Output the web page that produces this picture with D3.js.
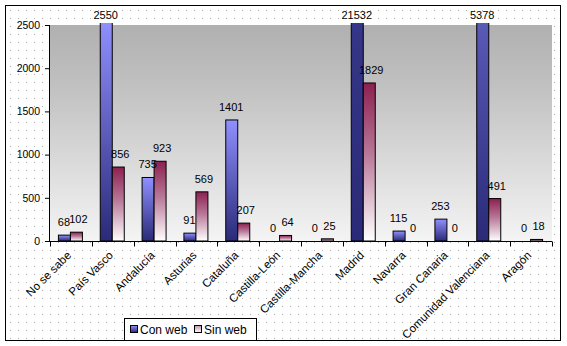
<!DOCTYPE html>
<html><head><meta charset="utf-8">
<script src="https://cdn.jsdelivr.net/npm/d3@7"></script>
<style>body{margin:0;background:#fff}svg{display:block}text{font-family:Arial,"Liberation Sans",sans-serif}</style>
</head><body><svg id="c" width="567" height="346"></svg>
<script>
const categories = ["No se sabe","País Vasco","Andalucía","Asturias","Cataluña","Castilla-León","Castilla-Mancha","Madrid","Navarra","Gran Canaria","Comunidad Valenciana","Aragón"];
const conWeb = [68, 2550, 735, 91, 1401, 0, 0, 21532, 115, 253, 5378, 0];
const sinWeb = [102, 856, 923, 569, 207, 64, 25, 1829, 0, 0, 491, 18];
const seriesNames = ["Con web","Sin web"];
const yTicks = [0, 500, 1000, 1500, 2000, 2500];

const svg = d3.select("#c");
const defs = svg.append("defs");
const pat = defs.append("pattern").attr("id","dots").attr("width",8).attr("height",8).attr("patternUnits","userSpaceOnUse");
pat.append("rect").attr("x",2).attr("y",2).attr("width",1).attr("height",1).attr("fill","#b0b0b0");
const pg = defs.append("linearGradient").attr("id","plotg").attr("x1",0).attr("y1",0).attr("x2",0).attr("y2",1);
pg.append("stop").attr("offset","0%").attr("stop-color","#b0b0b0");
pg.append("stop").attr("offset","30%").attr("stop-color","#c2c2c2");
pg.append("stop").attr("offset","100%").attr("stop-color","#f4f4f4");
const bg = defs.append("linearGradient").attr("id","blueg").attr("x1",0).attr("y1",0).attr("x2",0).attr("y2",1);
bg.append("stop").attr("offset","0%").attr("stop-color","#9090ff");
bg.append("stop").attr("offset","100%").attr("stop-color","#2a2a78");
const mg = defs.append("linearGradient").attr("id","maroong").attr("x1",0).attr("y1",0).attr("x2",0).attr("y2",1);
mg.append("stop").attr("offset","0%").attr("stop-color","#8c2050");
mg.append("stop").attr("offset","45%").attr("stop-color","#b87898");
mg.append("stop").attr("offset","100%").attr("stop-color","#ffffff");
const legMg = defs.append("linearGradient").attr("id","legm").attr("x1",0).attr("y1",0).attr("x2",0).attr("y2",1);
legMg.append("stop").attr("offset","0%").attr("stop-color","#c090b0");
legMg.append("stop").attr("offset","100%").attr("stop-color","#ffffff");

svg.append("rect").attr("x",5.5).attr("y",5.5).attr("width",555).attr("height",335).attr("fill","#fff");
svg.append("rect").attr("x",5.5).attr("y",5.5).attr("width",555).attr("height",335).attr("fill","url(#dots)").attr("stroke","#000").attr("stroke-width",1);

const pL = 50, pR = 552, pT = 25, pB = 241;
const x = d3.scaleBand().domain(categories).range([pL, pR]).padding(0);
const y = d3.scaleLinear().domain([0, 2500]).range([pB, pT]);

svg.append("rect").attr("x",pL).attr("y",pT).attr("width",pR-pL).attr("height",pB-pT).attr("fill","url(#plotg)");

defs.append("clipPath").attr("id","clip").append("rect").attr("x",pL).attr("y",pT-2).attr("width",pR-pL).attr("height",pB-pT+2);

const bw = 12;
const data = categories.map((c,i)=>({c, con: conWeb[i], sin: sinWeb[i]}));
const g = svg.append("g").attr("clip-path","url(#clip)");
const cx = d => x(d.c) + x.bandwidth()/2;
g.selectAll(".con").data(data.filter(d=>d.con>0)).join("rect")
  .attr("x", d=>cx(d)-bw-0.5).attr("y", d=>y(d.con)).attr("width", bw).attr("height", d=>y(0)-y(d.con))
  .attr("fill","url(#blueg)").attr("stroke","#000").attr("stroke-width",1);
g.selectAll(".sin").data(data.filter(d=>d.sin>0)).join("rect")
  .attr("x", d=>cx(d)-0.5).attr("y", d=>y(d.sin)).attr("width", bw).attr("height", d=>y(0)-y(d.sin))
  .attr("fill","url(#maroong)").attr("stroke","#000").attr("stroke-width",1);

const lab = (v) => Math.max(y(v) - 9, pT - 6);
svg.append("g").selectAll("text").data(data).join("text")
  .attr("x", d=>cx(d)-bw/2-1).attr("y", d=>lab(d.con)).attr("text-anchor","middle")
  .attr("font-size","11px").attr("fill","#000").text(d=>d.con);
svg.append("g").selectAll("text").data(data).join("text")
  .attr("x", d=>cx(d)+bw/2+1.5).attr("y", d=>lab(d.sin)).attr("text-anchor","middle")
  .attr("font-size","11px").attr("fill","#000").text(d=>d.sin);

const ya = svg.append("g").attr("transform",`translate(${pL},0)`)
  .call(d3.axisLeft(y).tickValues(yTicks).tickSize(5).tickPadding(5).tickFormat(d3.format("d")));
ya.select(".domain").attr("d",`M-0.5,${pT}V${pB}`).attr("stroke","#000");
ya.selectAll("text").attr("font-size","10.5px").attr("font-family","Arial, 'Liberation Sans', sans-serif").attr("fill","#000");
ya.selectAll("line").attr("stroke","#000");

const xa = svg.append("g").attr("transform",`translate(0,${pB+0.5})`);
xa.append("line").attr("x1",pL-0.5).attr("x2",pR).attr("stroke","#000");
const bounds = categories.map(c=>x(c)).concat([pR]);
xa.selectAll(".tk").data(bounds).join("line").attr("x1",d=>Math.round(d)+0.5).attr("x2",d=>Math.round(d)+0.5).attr("y1",0).attr("y2",5).attr("stroke","#000");
svg.append("g").selectAll("text").data(categories).join("text")
  .attr("transform", c=>`translate(${x(c)+x.bandwidth()/2+1},${pB+15}) rotate(-45)`)
  .attr("text-anchor","end").attr("font-size","11.5px").attr("fill","#000").text(c=>c);

const lg = svg.append("g");
lg.append("rect").attr("x",124.5).attr("y",318.5).attr("width",132).attr("height",22).attr("fill","#fff").attr("stroke","#000");
const items = [{n:seriesNames[0], f:"url(#blueg)", x:130},{n:seriesNames[1], f:"url(#legm)", x:194}];
items.forEach(it=>{
  lg.append("rect").attr("x",it.x+0.5).attr("y",325.5).attr("width",7).attr("height",7).attr("fill",it.f).attr("stroke","#000");
  lg.append("text").attr("x",it.x+10).attr("y",334).attr("font-size","12px").attr("fill","#000").text(it.n);
});
</script></body></html>
